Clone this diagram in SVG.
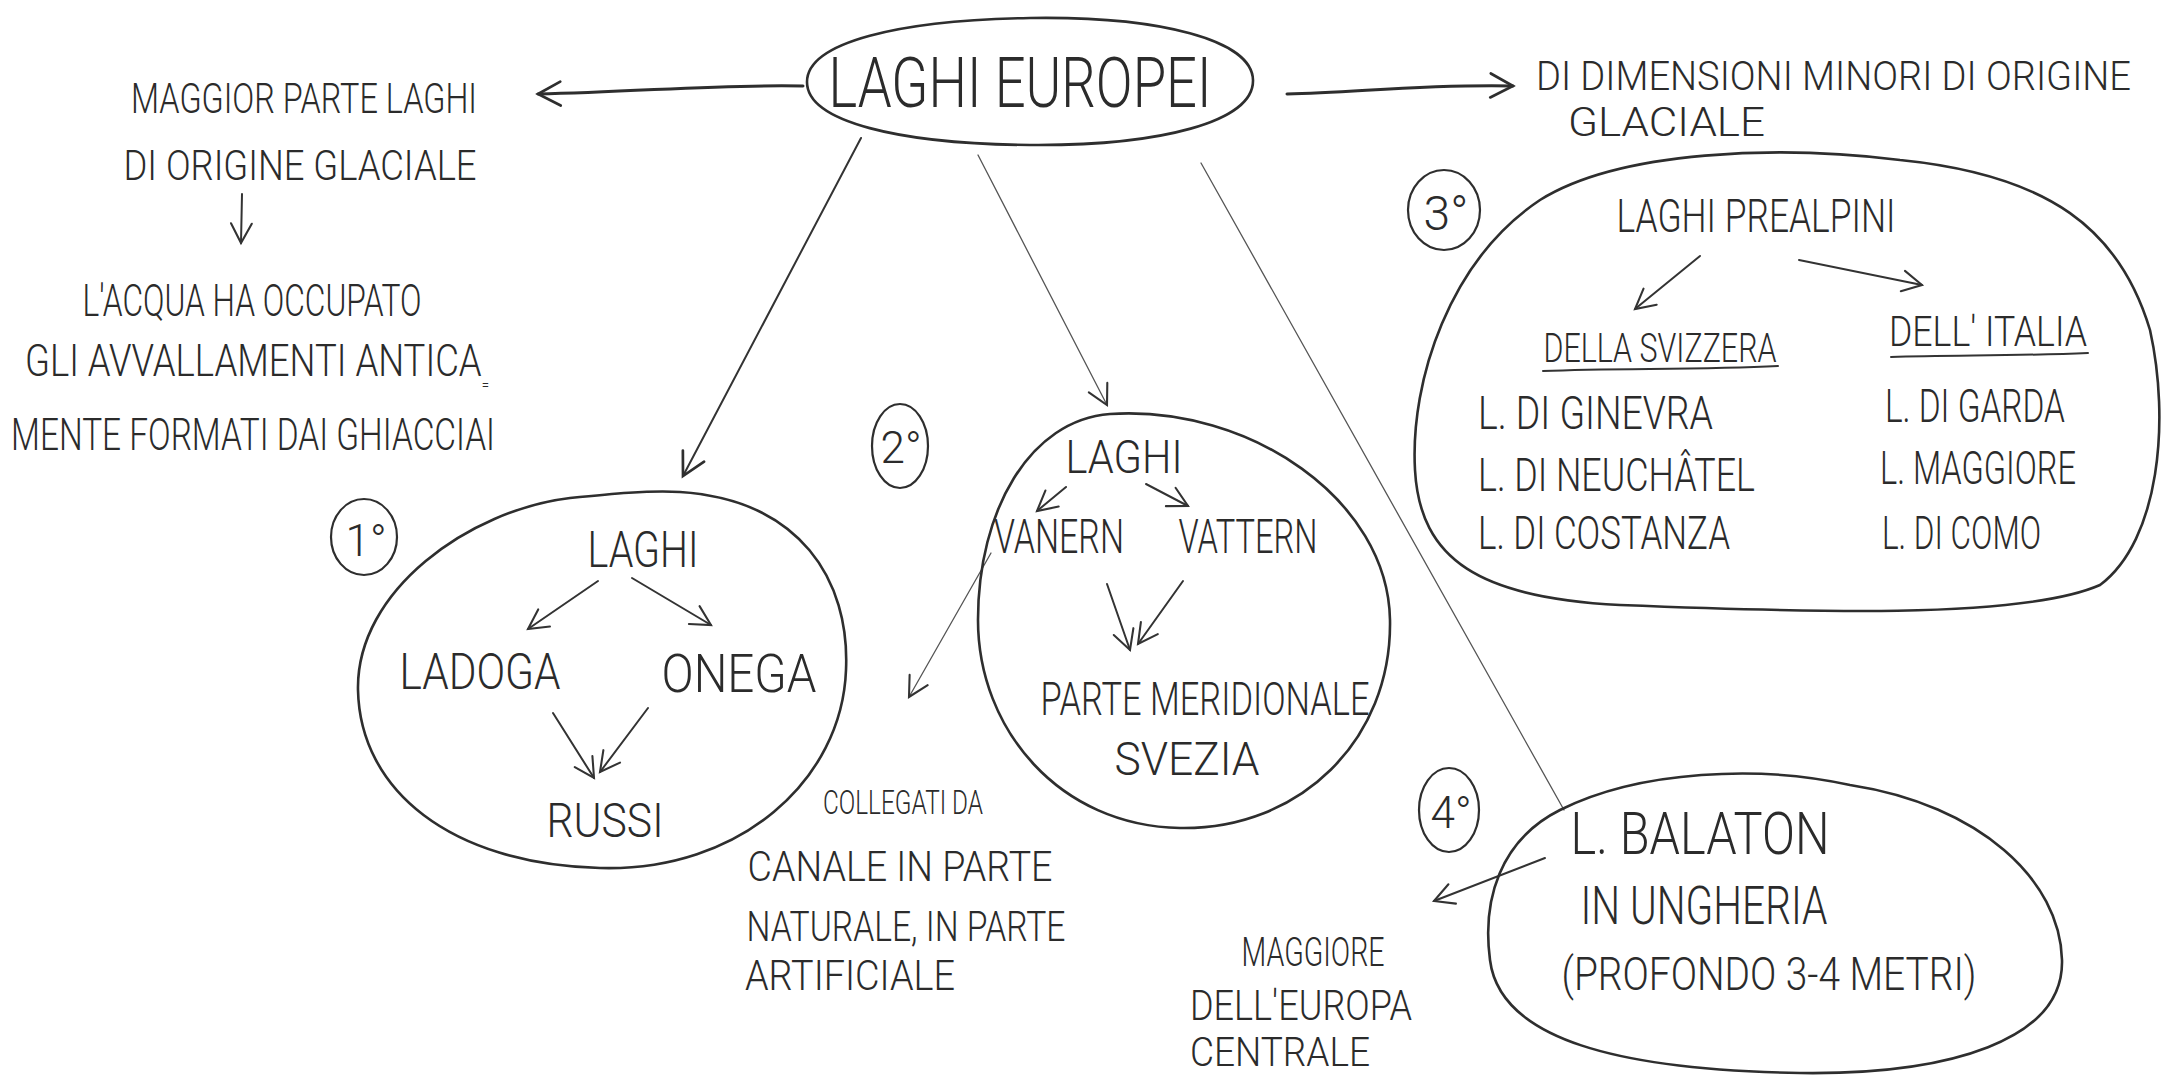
<svg xmlns="http://www.w3.org/2000/svg" width="2170" height="1078" viewBox="0 0 2170 1078">
<defs>
<style>
.t{font-family:Roboto,"Liberation Sans",sans-serif;font-weight:300;fill:#2b2b2b}
.c{text-anchor:middle}
.blob{fill:none;stroke:#2e2e2e;stroke-width:2.6;stroke-linecap:round}
.thick{fill:none;stroke:#2e2e2e;stroke-width:3;stroke-linecap:round}
.mid{fill:none;stroke:#333;stroke-width:2;stroke-linecap:round}
.thin{fill:none;stroke:#555;stroke-width:1.3;stroke-linecap:round}
.badge{fill:none;stroke:#2e2e2e;stroke-width:2.2}
</style>
<marker id="ah" viewBox="0 0 20 20" refX="18" refY="10" markerWidth="30" markerHeight="30" markerUnits="userSpaceOnUse" orient="auto">
<path d="M3,2 L18,10 L3,18" fill="none" stroke="#2e2e2e" stroke-width="1.8" stroke-linecap="round"/>
</marker>
<marker id="ahs" viewBox="0 0 20 20" refX="18" refY="10" markerWidth="26" markerHeight="26" markerUnits="userSpaceOnUse" orient="auto">
<path d="M3,2 L18,10 L3,18" fill="none" stroke="#333" stroke-width="1.6" stroke-linecap="round"/>
</marker>
</defs>
<rect width="2170" height="1078" fill="#ffffff"/>

<g id="connectors">
<path class="thick" d="M803,86 C720,84 640,92 538,94" marker-end="url(#ah)"/>
<path class="thick" d="M1287,94 C1360,92 1430,84 1513,86" marker-end="url(#ah)"/>
<path class="mid" d="M861,138 L683,476" marker-end="url(#ah)"/>
<path class="thin" d="M978,155 L1107,405" marker-end="url(#ahs)"/>
<path class="thin" d="M1201,163 L1564,810"/>
<path class="mid" d="M242,194 L241,243" marker-end="url(#ahs)"/>
<path class="mid" d="M598,581 L528,629" marker-end="url(#ahs)"/>
<path class="mid" d="M632,578 L711,625" marker-end="url(#ahs)"/>
<path class="mid" d="M553,713 L594,778" marker-end="url(#ahs)"/>
<path class="mid" d="M648,708 L600,772" marker-end="url(#ahs)"/>
<path class="mid" d="M1066,487 L1037,511" marker-end="url(#ahs)"/>
<path class="mid" d="M1146,484 L1188,506" marker-end="url(#ahs)"/>
<path class="mid" d="M1107,584 L1130,650" marker-end="url(#ahs)"/>
<path class="mid" d="M1183,581 L1138,644" marker-end="url(#ahs)"/>
<path class="thin" d="M991,553 L909,697" marker-end="url(#ahs)"/>
<path class="mid" d="M1700,256 L1635,309" marker-end="url(#ahs)"/>
<path class="mid" d="M1799,260 L1922,285" marker-end="url(#ahs)"/>
<path class="mid" d="M1545,858 L1434,901" marker-end="url(#ahs)"/>
</g>

<g id="node-laghi-europei">
<path class="blob" d="M1030,18 C1160,16 1252,40 1253,80 C1254,122 1160,146 1030,145 C900,144 807,122 807,82 C807,42 900,20 1030,18 Z"/>
<text class="t c" x="1020" y="107" font-size="70" textLength="383" lengthAdjust="spacingAndGlyphs">LAGHI EUROPEI</text>
</g>

<g id="node-glaciale-left">
<text class="t c" x="304" y="113" font-size="42" textLength="346" lengthAdjust="spacingAndGlyphs">MAGGIOR PARTE LAGHI</text>
<text class="t c" x="300" y="180" font-size="42" textLength="353" lengthAdjust="spacingAndGlyphs">DI ORIGINE GLACIALE</text>
</g>

<g id="node-acqua">
<text class="t c" x="252" y="316" font-size="44" textLength="339" lengthAdjust="spacingAndGlyphs">L'ACQUA HA OCCUPATO</text>
<text class="t" x="25" y="376" font-size="44" textLength="464" lengthAdjust="spacingAndGlyphs">GLI AVVALLAMENTI ANTICA<tspan font-size="16" dy="14">=</tspan></text>
<text class="t" x="11" y="450" font-size="44" textLength="484" lengthAdjust="spacingAndGlyphs">MENTE FORMATI DAI GHIACCIAI</text>
</g>

<g id="node-minori">
<text class="t" x="1536" y="90" font-size="40" textLength="595" lengthAdjust="spacingAndGlyphs">DI DIMENSIONI MINORI DI ORIGINE</text>
<text class="t" x="1568" y="136" font-size="40" textLength="197" lengthAdjust="spacingAndGlyphs">GLACIALE</text>
</g>

<g id="node-1">
<ellipse class="badge" cx="364" cy="537" rx="33" ry="38"/>
<text class="t c" x="366" y="556" font-size="44">1°</text>
<path class="blob" d="M680,492 C800,500 850,580 846,670 C842,780 740,872 600,868 C450,864 360,790 358,690 C356,590 470,510 570,498 C610,494 650,490 680,492 Z"/>
<text class="t c" x="643" y="567" font-size="50" textLength="111" lengthAdjust="spacingAndGlyphs">LAGHI</text>
<text class="t c" x="480" y="689" font-size="50" textLength="161" lengthAdjust="spacingAndGlyphs">LADOGA</text>
<text class="t c" x="739" y="692" font-size="54" textLength="155" lengthAdjust="spacingAndGlyphs">ONEGA</text>
<text class="t c" x="605" y="837" font-size="48" textLength="117" lengthAdjust="spacingAndGlyphs">RUSSI</text>
</g>

<g id="node-2">
<ellipse class="badge" cx="900" cy="446" rx="28" ry="42"/>
<text class="t c" x="901" y="463" font-size="44">2°</text>
<path class="blob" d="M1110,414 C1250,405 1388,500 1390,620 C1392,740 1300,830 1180,828 C1060,826 978,730 978,620 C978,510 1030,420 1110,414 Z"/>
<text class="t c" x="1124" y="473" font-size="46" textLength="117" lengthAdjust="spacingAndGlyphs">LAGHI</text>
<text class="t c" x="1059" y="553" font-size="48" textLength="130" lengthAdjust="spacingAndGlyphs">VANERN</text>
<text class="t c" x="1248" y="553" font-size="48" textLength="139" lengthAdjust="spacingAndGlyphs">VATTERN</text>
<text class="t c" x="1205" y="715" font-size="46" textLength="329" lengthAdjust="spacingAndGlyphs">PARTE MERIDIONALE</text>
<text class="t c" x="1187" y="775" font-size="46" textLength="145" lengthAdjust="spacingAndGlyphs">SVEZIA</text>
</g>

<g id="node-collegati">
<text class="t c" x="903" y="814" font-size="34" textLength="160" lengthAdjust="spacingAndGlyphs">COLLEGATI DA</text>
<text class="t c" x="900" y="881" font-size="42" textLength="305" lengthAdjust="spacingAndGlyphs">CANALE IN PARTE</text>
<text class="t c" x="906" y="941" font-size="42" textLength="319" lengthAdjust="spacingAndGlyphs">NATURALE, IN PARTE</text>
<text class="t c" x="850" y="990" font-size="42" textLength="210" lengthAdjust="spacingAndGlyphs">ARTIFICIALE</text>
</g>

<g id="node-3">
<ellipse class="badge" cx="1444" cy="210" rx="36" ry="40"/>
<text class="t c" x="1446" y="230" font-size="48">3°</text>
<path class="blob" d="M1540,200 C1620,150 1780,145 1900,160 C2050,175 2120,230 2150,330 C2170,420 2160,540 2100,585 C2020,620 1800,612 1620,605 C1480,598 1420,560 1415,470 C1410,380 1450,260 1540,200 Z"/>
<text class="t c" x="1756" y="232" font-size="46" textLength="279" lengthAdjust="spacingAndGlyphs">LAGHI PREALPINI</text>
<text class="t c" x="1660" y="362" font-size="40" textLength="233" lengthAdjust="spacingAndGlyphs">DELLA SVIZZERA</text>
<path class="mid" d="M1543,371 C1620,368 1700,370 1778,366"/>
<text class="t c" x="1988" y="346" font-size="42" textLength="198" lengthAdjust="spacingAndGlyphs">DELL' ITALIA</text>
<path class="mid" d="M1891,357 C1950,355 2020,356 2088,353"/>
<text class="t" x="1478" y="429" font-size="46" textLength="235" lengthAdjust="spacingAndGlyphs">L. DI GINEVRA</text>
<text class="t" x="1478" y="491" font-size="46" textLength="277" lengthAdjust="spacingAndGlyphs">L. DI NEUCHÂTEL</text>
<text class="t" x="1478" y="549" font-size="46" textLength="252" lengthAdjust="spacingAndGlyphs">L. DI COSTANZA</text>
<text class="t" x="1885" y="422" font-size="46" textLength="180" lengthAdjust="spacingAndGlyphs">L. DI GARDA</text>
<text class="t" x="1880" y="484" font-size="46" textLength="196" lengthAdjust="spacingAndGlyphs">L. MAGGIORE</text>
<text class="t" x="1882" y="549" font-size="46" textLength="159" lengthAdjust="spacingAndGlyphs">L. DI COMO</text>
</g>

<g id="node-4">
<ellipse class="badge" cx="1449" cy="810" rx="30" ry="42"/>
<text class="t c" x="1451" y="828" font-size="44">4°</text>
<path class="blob" d="M1560,810 C1640,770 1760,765 1850,785 C1980,805 2060,880 2062,960 C2064,1040 1950,1075 1800,1073 C1620,1070 1500,1040 1490,960 C1482,900 1500,840 1560,810 Z"/>
<text class="t c" x="1700" y="854" font-size="60" textLength="259" lengthAdjust="spacingAndGlyphs">L. BALATON</text>
<text class="t c" x="1704" y="924" font-size="54" textLength="247" lengthAdjust="spacingAndGlyphs">IN UNGHERIA</text>
<text class="t c" x="1769" y="990" font-size="46" textLength="415" lengthAdjust="spacingAndGlyphs">(PROFONDO 3-4 METRI)</text>
</g>

<g id="node-maggiore">
<text class="t c" x="1313" y="966" font-size="40" textLength="143" lengthAdjust="spacingAndGlyphs">MAGGIORE</text>
<text class="t c" x="1301" y="1020" font-size="42" textLength="222" lengthAdjust="spacingAndGlyphs">DELL'EUROPA</text>
<text class="t c" x="1280" y="1066" font-size="40" textLength="180" lengthAdjust="spacingAndGlyphs">CENTRALE</text>
</g>
</svg>
